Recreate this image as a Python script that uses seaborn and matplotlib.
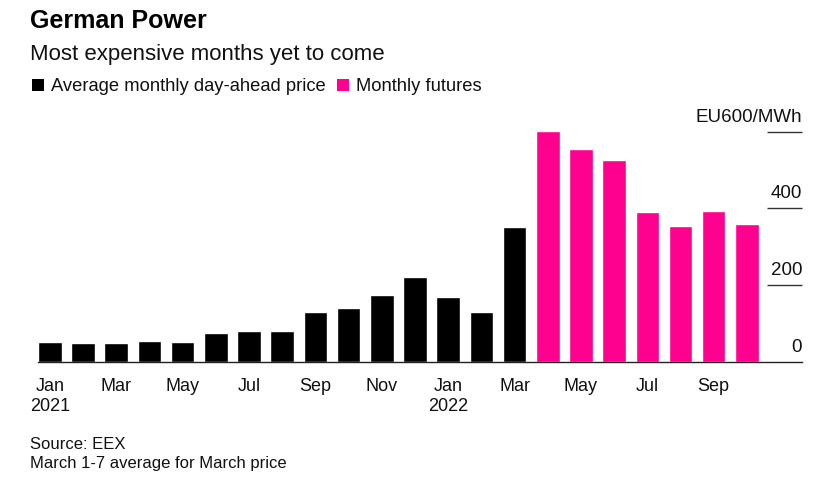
import matplotlib
matplotlib.use("Agg")
import matplotlib.pyplot as plt
from matplotlib.patches import Rectangle
import seaborn as sns
import pandas as pd

# ---- data ----
months = ["2021-01", "2021-02", "2021-03", "2021-04", "2021-05", "2021-06",
          "2021-07", "2021-08", "2021-09", "2021-10", "2021-11", "2021-12",
          "2022-01", "2022-02", "2022-03", "2022-04", "2022-05", "2022-06",
          "2022-07", "2022-08", "2022-09", "2022-10"]
day_ahead = [52, 48, 48, 55, 51, 74, 80, 80, 130, 139, 175, 221, 168, 130, 351]
futures = [601, 555, 526, 390, 354, 393, 360]
series_names = ["Average monthly day-ahead price", "Monthly futures"]
series_colors = ["#000000", "#FF008F"]
tick_positions = [0, 2, 4, 6, 8, 10, 12, 14, 16, 18, 20]
tick_labels = ["Jan\n2021", "Mar", "May", "Jul", "Sep", "Nov",
               "Jan\n2022", "Mar", "May", "Jul", "Sep"]
y_ticks = [0, 200, 400, 600]
y_tick_labels = ["0", "200", "400", "EU600/MWh"]

df = pd.DataFrame({
    "month": months,
    "price": day_ahead + futures,
    "series": [series_names[0]] * len(day_ahead) + [series_names[1]] * len(futures),
})

sns.set_style("white")
plt.rcParams["font.family"] = ["Liberation Sans", "DejaVu Sans"]

W, H = 826, 487
fig = plt.figure(figsize=(W / 100, H / 100), dpi=100)

ax_left, ax_right = 38, 802
ax_bottom, ax_top = 361.7, 112
ax = fig.add_axes([ax_left / W, 1 - ax_bottom / H,
                   (ax_right - ax_left) / W, (ax_bottom - ax_top) / H])

sns.barplot(data=df, x="month", y="price", hue="series", order=months,
            palette=dict(zip(series_names, series_colors)), dodge=False,
            width=0.71, saturation=1, legend=False, ax=ax)

px_per_unit = 76.67 / 200
ax.set_ylim(0, (ax_bottom - ax_top) / px_per_unit)
ax.set_xlim(-0.355, 22.66)

for s in ["top", "left", "right"]:
    ax.spines[s].set_visible(False)
ax.spines["bottom"].set_color("#222222")
ax.spines["bottom"].set_linewidth(1.0)

ax.set_xticks(tick_positions)
ax.set_xticklabels(tick_labels, fontsize=13, linespacing=1.25, color="#111111")
ax.tick_params(axis="x", length=4.3, width=0.8, color="#333333", pad=7.5)
ax.set_yticks([])
ax.set_xlabel("")
ax.set_ylabel("")

ytr = ax.get_yaxis_transform()
for v, lab in zip(y_ticks, y_tick_labels):
    if v > 0:
        ax.plot([0.954, 1.0], [v, v], transform=ytr, color="#333333",
                lw=1.0, clip_on=False, solid_capstyle="butt")
    ax.annotate(lab, xy=(1.0, v), xycoords=ytr, xytext=(0, 7.3),
                textcoords="offset points", ha="right", va="baseline",
                fontsize=13.5, color="#111111")

# ---- titles ----
fig.text(30 / W, 1 - 28 / H, "German Power", fontsize=18, fontweight="bold",
         ha="left", va="baseline", color="#000000")
fig.text(30 / W, 1 - 60 / H, "Most expensive months yet to come", fontsize=16,
         ha="left", va="baseline", color="#111111")

# ---- legend ----
leg_items = [(31.5, 51, series_names[0], series_colors[0]),
             (337.3, 356, series_names[1], series_colors[1])]
for sx, tx, name, col in leg_items:
    fig.patches.append(Rectangle((sx / W, 1 - 91 / H), 12 / W, 12 / H,
                                 transform=fig.transFigure, facecolor=col,
                                 edgecolor="none"))
    fig.text(tx / W, 1 - 91 / H, name, fontsize=13.2, ha="left",
             va="baseline", color="#111111")

# ---- footer ----
fig.text(30 / W, 1 - 449 / H, "Source: EEX", fontsize=12, ha="left",
         va="baseline", color="#111111")
fig.text(30 / W, 1 - 467.7 / H, "March 1-7 average for March price", fontsize=12,
         ha="left", va="baseline", color="#111111")

fig.savefig("out.png", dpi=100, facecolor="white")
